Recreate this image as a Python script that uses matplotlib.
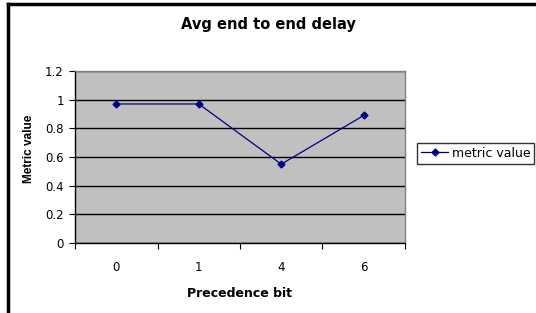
import matplotlib.pyplot as plt
from matplotlib.lines import Line2D

plt.rcParams['font.family'] = ['DejaVu Sans']

# data
categories = ["0", "1", "4", "6"]
metric_value = [0.97, 0.97, 0.55, 0.89]

fig = plt.figure(figsize=(5.36, 3.13), dpi=100)
ax = fig.add_axes([75 / 536, 1 - 243 / 313, 330 / 536, 172 / 313])
ax.set_facecolor("#c0c0c0")

x = [i + 0.5 for i in range(len(categories))]
ax.plot(x, metric_value, color="#000080", linewidth=0.9, marker="D", markersize=3.5,
        label="metric value")

ax.set_xlim(0, len(categories))
ax.set_ylim(0, 1.2)
ax.set_yticks([0, 0.2, 0.4, 0.6, 0.8, 1, 1.2])
ax.set_yticklabels(["0", "0.2", "0.4", "0.6", "0.8", "1", "1.2"])
ax.yaxis.grid(True, color="black", linewidth=1)
ax.set_axisbelow(True)

ax.set_xticks(range(len(categories) + 1))
ax.set_xticklabels([])
ax.set_xticks(x, minor=True)
ax.set_xticklabels(categories, minor=True)
ax.tick_params(axis="x", which="minor", length=0, pad=13, labelsize=8.5)
ax.tick_params(axis="x", which="major", direction="out", length=4)
ax.tick_params(axis="y", direction="out", length=4, labelsize=8.5, pad=4)

for s in ["top", "right"]:
    ax.spines[s].set_color("#808080")
    ax.spines[s].set_linewidth(1)
for s in ["left", "bottom"]:
    ax.spines[s].set_color("black")
    ax.spines[s].set_linewidth(1)

ax.set_xlabel("Precedence bit", fontsize=9, fontweight="bold", labelpad=9)
ax.set_ylabel("Metric value", fontsize=8.5, fontweight="bold",
              family=["Liberation Sans", "DejaVu Sans"])
ax.yaxis.set_label_coords(-40 / 330, 0.545)
fig.text(0.5, 1 - 25 / 313, "Avg end to end delay", ha="center", va="center",
         fontsize=10.5, fontweight="bold")

fig.legend(loc="upper left", bbox_to_anchor=(417 / 536, 1 - 143 / 313),
           fontsize=9, frameon=True, fancybox=False, edgecolor="black",
           handlelength=2.2, borderpad=0.3, handletextpad=0.3, borderaxespad=0)

# outer chart border (top and left)
fig.add_artist(Line2D([8 / 536, 8 / 536], [0, 1 - 4 / 313], transform=fig.transFigure,
                      color="black", linewidth=2.5))
fig.add_artist(Line2D([8 / 536, 1], [1 - 4 / 313, 1 - 4 / 313], transform=fig.transFigure,
                      color="black", linewidth=2.5))

fig.savefig("out.png", dpi=100)
plt.close()
